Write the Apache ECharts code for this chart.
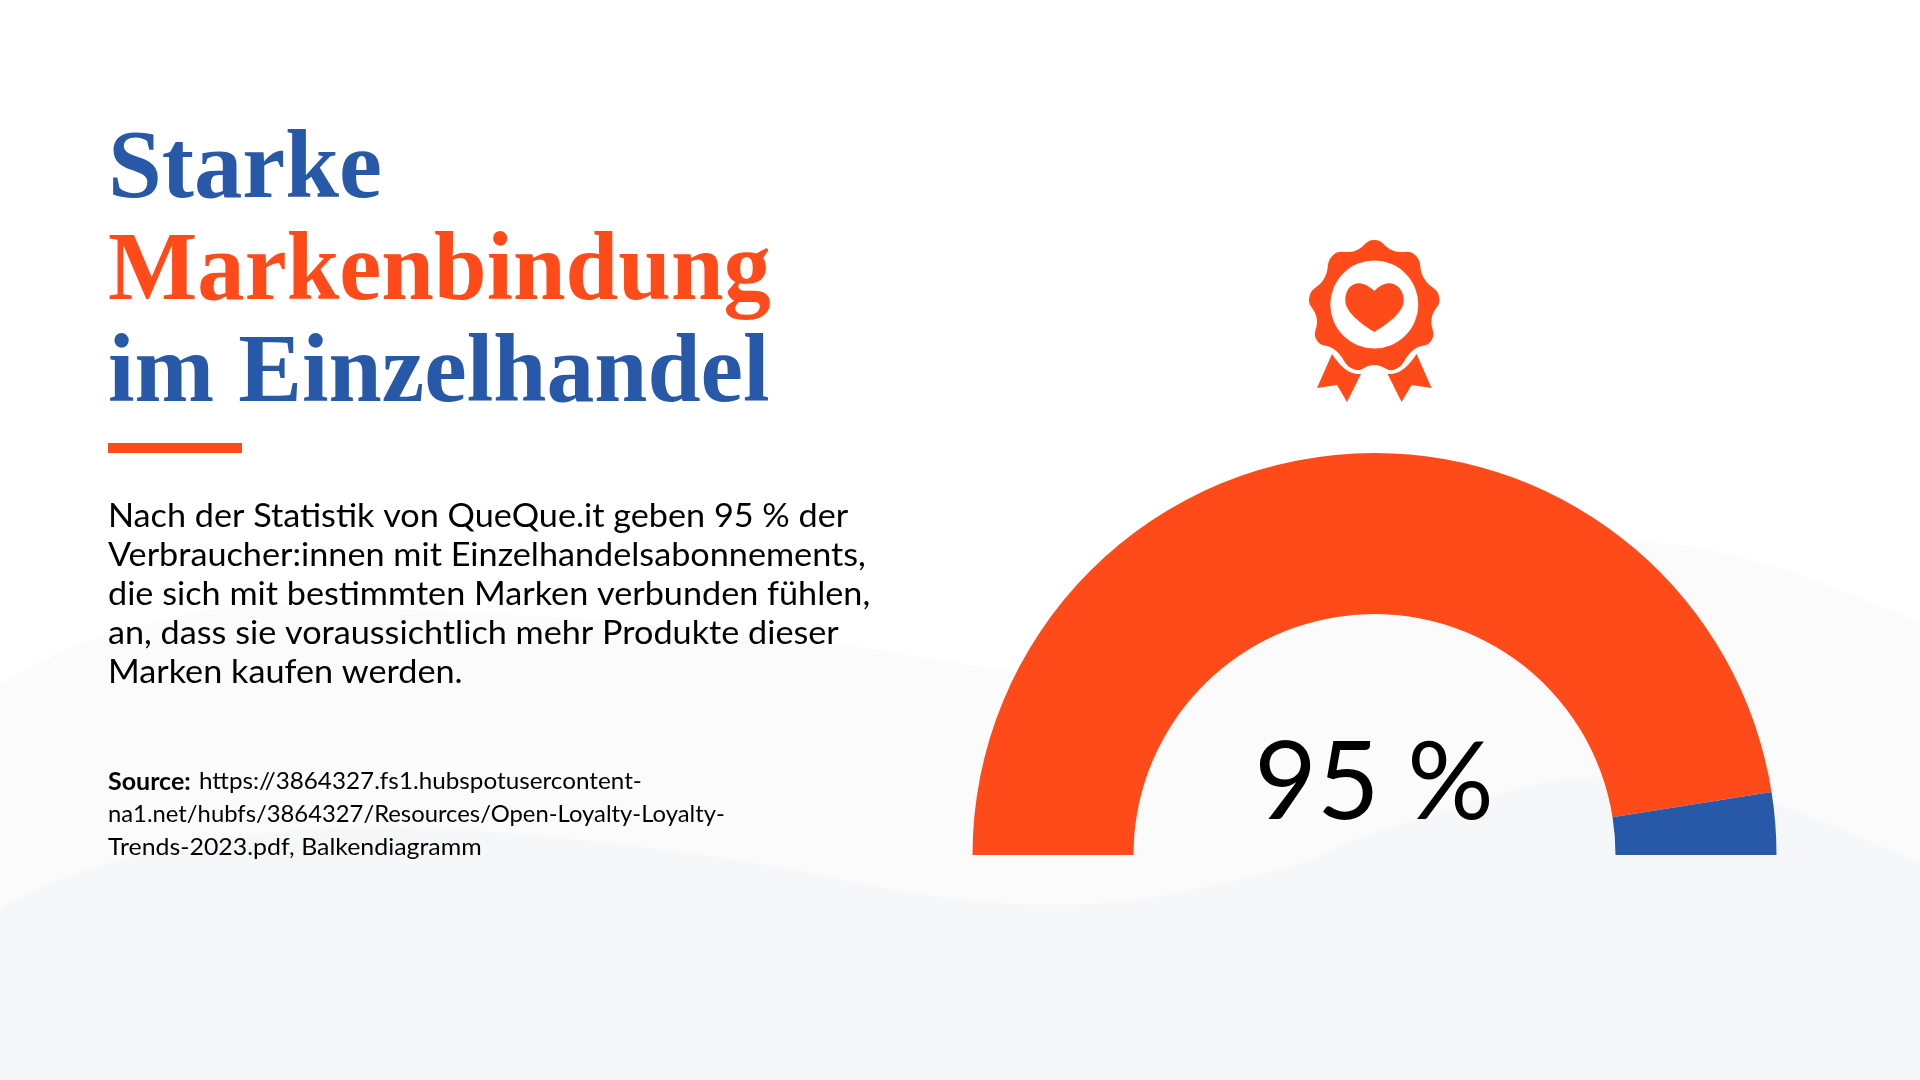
<!DOCTYPE html>
<html>
<head>
<meta charset="utf-8">
<title>Starke Markenbindung im Einzelhandel</title>
<script src="https://cdn.jsdelivr.net/npm/echarts@6/dist/echarts.min.js"></script>
<style>
html,body{margin:0;padding:0;background:#fff}
#chart{width:1920px;height:1080px}
</style>
</head>
<body>
<div id="chart"></div>
<script>
// Werte aus der Grafik
const categories = ['Ja', 'Nein']
const values = [95, 5]
const sliceColors = ['#FF4A1A', '#2858A8']
const centerLabel = '95 %'

const titleLines = ['Starke', 'Markenbindung', 'im Einzelhandel']
const titleColors = ['#2858A8', '#FF4A1A', '#2858A8']
const titleStretch = [0.987, 0.966, 0.976]
const bodyLines = [
  'Nach der Statistik von QueQue.it geben 95 % der',
  'Verbraucher:innen mit Einzelhandelsabonnements,',
  'die sich mit bestimmten Marken verbunden fühlen,',
  'an, dass sie voraussichtlich mehr Produkte dieser',
  'Marken kaufen werden.'
]
const sourceLines = [
  'https://3864327.fs1.hubspotusercontent-',
  'na1.net/hubfs/3864327/Resources/Open-Loyalty-Loyalty-',
  'Trends-2023.pdf, Balkendiagramm'
]
const sourceStretch = [1.011, 0.992, 1.037]

const chart = echarts.init(document.getElementById('chart'))

// graphic kennt kein 'path', deshalb eigene Formen registrieren
function addShape(name, pathData) {
  echarts.graphic.registerShape(name, echarts.graphic.extendPath(pathData, {}))
}
addShape('waveBack', 'M0 685 C40 660 80 640 110 637 C160 620 200 608 243 607 C420 604 700 625 857 647 C900 653 980 667 1015 672 C1080 682 1150 685 1210 665 C1250 650 1290 633 1340 620 C1450 590 1550 542 1634 542 C1730 542 1830 585 1920 623 L1920 1080 L0 1080 Z')
addShape('waveFront', 'M0 910 C60 870 180 835 343 827 C480 825 650 845 796 870 C860 885 960 905 1052 905 C1120 905 1170 895 1205 887 C1260 875 1295 868 1327 853 C1370 830 1410 822 1450 810 C1490 797 1530 777 1634 775 C1710 775 1800 810 1920 863 L1920 1080 L0 1080 Z')
addShape('heart', 'M1374.3 291 C1368 285 1362 283 1358 283.3 C1350 284 1345.3 291 1345.3 300 C1345.3 312 1360 323 1374.3 332 C1389 323 1403.7 312 1403.7 300 C1403.7 291 1398 284 1390 283.3 C1386 283 1380 285 1374.3 291 Z')
addShape('ribbonL', 'M1332 354 L1317 388 L1337 385 L1347 402 L1361 374 C1352 374 1344 372 1332 354 Z')
addShape('ribbonR', 'M1416.6 354 L1431.6 388 L1411.6 385 L1401.6 402 L1387.6 374 C1396.6 374 1404.6 372 1416.6 354 Z')

// Rosette, abwechselnd Zacke und Kerbe
const sealPoints = [
  [1374.3, 240], [1393.3, 250.7], [1415, 255], [1424, 278.3], [1439.3, 297.3], [1431.7, 318.3],
  [1431.7, 340], [1413.3, 350], [1395, 369.3], [1374.3, 365], [1354, 369.3], [1335, 350],
  [1316.7, 340], [1316.7, 318.3], [1309.3, 297.3], [1324.3, 278.3], [1333.3, 255], [1355.3, 250.7]
]

const orange = '#FF4A1A'
const graphics = [
  { type: 'waveBack', z: 0, style: { fill: '#FBFBFC' } },
  { type: 'waveFront', z: 1, style: { fill: '#F6F7F9' } },
  { type: 'ribbonL', z: 5, style: { fill: orange } },
  { type: 'ribbonR', z: 5, style: { fill: orange } },
  { type: 'polygon', z: 5, shape: { points: sealPoints, smooth: 0.5 }, style: { fill: orange } },
  { type: 'circle', z: 6, shape: { cx: 1374.3, cy: 304.5, r: 44 }, style: { fill: '#fff' } },
  { type: 'heart', z: 7, style: { fill: orange } },
  { type: 'rect', z: 5, shape: { x: 108, y: 443, width: 134, height: 10 }, style: { fill: orange } }
]

// y ist die Oberkante der Zeile
titleLines.forEach((t, i) => {
  graphics.push({
    type: 'text', z: 5, x: 108, y: 123 + i * 102, scaleX: titleStretch[i],
    style: { text: t, fill: titleColors[i], fontFamily: 'Liberation Serif', fontWeight: 'bold', fontSize: 98 }
  })
})
bodyLines.forEach((t, i) => {
  graphics.push({
    type: 'text', z: 5, x: 108, y: 500.5 + i * 39, scaleX: 1.069,
    style: { text: t, fill: '#000', fontFamily: 'Lato', fontSize: 32 }
  })
})
graphics.push({
  type: 'text', z: 5, x: 108, y: 769.5,
  style: { text: 'Source:', fill: '#000', fontFamily: 'Lato', fontWeight: 'bold', fontSize: 25 }
})
sourceLines.forEach((t, i) => {
  graphics.push({
    type: 'text', z: 5, x: i === 0 ? 199 : 108, y: 769.5 + i * 33, scaleX: sourceStretch[i],
    style: { text: t, fill: '#000', fontFamily: 'Lato', fontSize: 24 }
  })
})

chart.setOption({
  animation: false,
  graphic: graphics,
  series: [{
    type: 'pie',
    z: 3,
    center: [1374.5, 855],
    radius: [241, 402],
    startAngle: 180,
    endAngle: 360,
    clockwise: true,
    silent: true,
    label: { show: false },
    labelLine: { show: false },
    data: categories.map((name, i) => ({
      name, value: values[i], itemStyle: { color: sliceColors[i] }
    }))
  }],
  title: {
    text: centerLabel,
    left: 1369, top: 725, textAlign: 'center',
    textStyle: { color: '#000', fontFamily: 'Lato', fontWeight: 400, fontSize: 108 }
  }
})
</script>
</body>
</html>
